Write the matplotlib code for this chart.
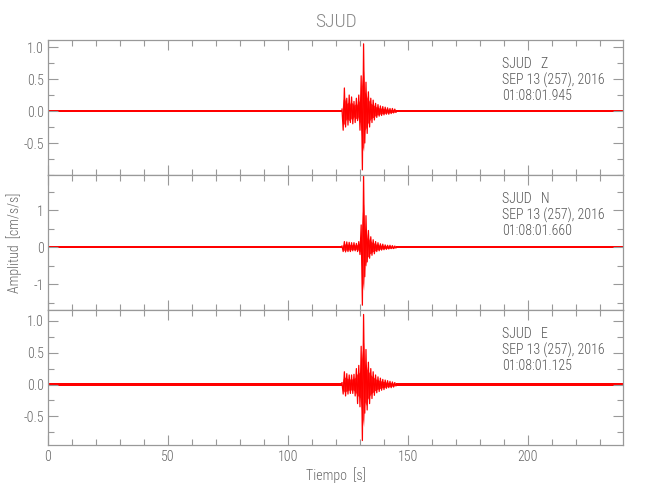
import numpy as np
import matplotlib
matplotlib.use("Agg")
import matplotlib.pyplot as plt
from matplotlib.ticker import MultipleLocator, FixedLocator

plt.rcParams['font.family'] = ['Roboto Condensed', 'Liberation Sans Narrow',
                               'Liberation Sans', 'DejaVu Sans']
plt.rcParams['font.weight'] = 'light'
plt.rcParams['axes.labelweight'] = 'light'
plt.rcParams['axes.unicode_minus'] = False

t_evento = np.arange(122.5, 145.01, 0.5)

picos_z = [0.03, -0.30, 0.36, -0.25, 0.20, -0.22, 0.25, -0.18, 0.22, -0.20,
           0.15, -0.18, 0.20, -0.15, 0.25, -0.30, 0.55, -0.92, 1.05, -0.50,
           0.45, -0.35, 0.30, -0.25, 0.20, -0.18, 0.17, -0.14, 0.12, -0.10,
           0.10, -0.08, 0.08, -0.07, 0.07, -0.06, 0.06, -0.05, 0.05, -0.05,
           0.04, -0.04, 0.04, -0.03, 0.03, -0.02]
picos_n = [0.03, -0.12, 0.15, -0.13, 0.14, -0.12, 0.13, -0.12, 0.12, -0.10,
           0.12, -0.10, 0.10, -0.12, 0.15, -0.20, 0.60, -1.57, 1.95, -0.80,
           0.85, -0.40, 0.45, -0.30, 0.28, -0.22, 0.20, -0.18, 0.15, -0.12,
           0.12, -0.10, 0.09, -0.08, 0.08, -0.07, 0.06, -0.06, 0.05, -0.05,
           0.05, -0.04, 0.04, -0.04, 0.03, -0.02]
picos_e = [0.03, -0.15, 0.20, -0.18, 0.17, -0.15, 0.15, -0.14, 0.15, -0.14,
           0.16, -0.18, 0.25, -0.30, 0.30, -0.35, 0.60, -0.88, 1.10, -0.45,
           0.55, -0.40, 0.35, -0.30, 0.25, -0.22, 0.20, -0.17, 0.15, -0.13,
           0.12, -0.11, 0.10, -0.09, 0.08, -0.08, 0.07, -0.06, 0.06, -0.05,
           0.05, -0.05, 0.04, -0.04, 0.03, -0.02]

# ruido de fondo: tramos (inicio, fin) y nivel por componente
tramos = [(0, 122.5), (145, 240)]
ruido_z = [0.016, 0.016]
ruido_n = [0.022, 0.022]
ruido_e = [0.016, 0.016]

componentes = ["Z", "N", "E"]
horas = ["01:08:01.945", "01:08:01.660", "01:08:01.125"]
limites = [(-1.0, 1.11), (-1.70, 1.95), (-0.95, 1.17)]
ticks_y = [[-0.5, 0.0, 0.5, 1.0], [-1, 0, 1], [-0.5, 0.0, 0.5, 1.0]]
etiquetas_y = [["-0.5", "0.0", "0.5", "1.0"], ["-1", "0", "1"],
               ["-0.5", "0.0", "0.5", "1.0"]]
menores_y = [0.25, 0.5, 0.25]

gris_eje = "#999999"
gris_txt = "#666666"

fig = plt.figure(figsize=(6.5, 5), dpi=100)
bottoms = [0.65, 0.38, 0.11]

for i, (picos, ruido) in enumerate(zip([picos_z, picos_n, picos_e],
                                       [ruido_z, ruido_n, ruido_e])):
    ax = fig.add_axes([48/650, bottoms[i], 575/650, 0.27])
    for (a, b), r in zip(tramos, ruido):
        ax.fill_between([a, b], [-r, -r], [r, r], color="red", lw=0)
    nucleo = 0.6 * np.abs(picos)
    ax.fill_between(t_evento, -nucleo, nucleo, color="red", lw=0, alpha=0.8)
    ax.plot(t_evento, picos, color="red", lw=0.9)
    ax.set_xlim(0, 239.6)
    ax.set_ylim(*limites[i])

    ax.xaxis.set_major_locator(MultipleLocator(50))
    ax.xaxis.set_minor_locator(MultipleLocator(10))
    ax.yaxis.set_major_locator(FixedLocator(ticks_y[i]))
    ax.set_yticklabels(etiquetas_y[i])
    ax.yaxis.set_minor_locator(MultipleLocator(menores_y[i]))
    ax.tick_params(which="both", direction="in", top=True, right=True,
                   color=gris_eje, labelcolor=gris_txt, labelsize=10, width=0.8)
    ax.tick_params(which="major", length=7)
    ax.tick_params(which="minor", length=4)
    ax.tick_params(axis="y", pad=3)
    for s in ax.spines.values():
        s.set_color(gris_eje)
        s.set_linewidth(0.9)
    if i < 2:
        ax.tick_params(labelbottom=False)
    else:
        ax.set_xlabel("Tiempo  [s]", color=gris_txt, fontsize=10, labelpad=2)

    ax.text(0.79, 0.822, "SJUD   " + componentes[i], transform=ax.transAxes,
            color="#555555", fontsize=10, va="center", ha="left")
    ax.text(0.79, 0.704, "SEP 13 (257), 2016", transform=ax.transAxes,
            color="#555555", fontsize=10, va="center", ha="left")
    ax.text(0.79, 0.585, horas[i], transform=ax.transAxes,
            color="#555555", fontsize=10, va="center", ha="left")

fig.text(336/650, 1 - 22/500, "SJUD", ha="center", va="center",
         color="#888888", fontsize=14)
fig.text(14/650, 1 - 243/500, "Amplitud  [cm/s/s]", rotation=90,
         ha="center", va="center", color=gris_txt, fontsize=10)

fig.savefig("out.png", dpi=100)
